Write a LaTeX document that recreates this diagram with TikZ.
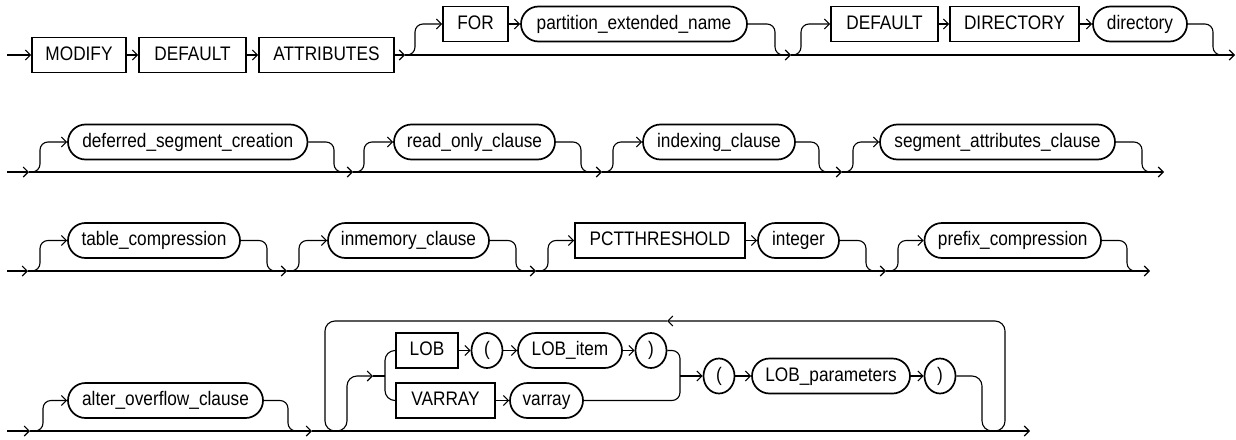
\documentclass[tikz,border=0pt]{standalone}
\usepackage{fontspec}
\setmainfont{Liberation Sans}[FakeStretch=0.88]
\usetikzlibrary{arrows.meta,shapes.misc,shapes.geometric}
\begin{document}
\begin{tikzpicture}[x=1pt,y=-1pt,
  conn/.style={line width=1.1pt},
  arr/.style={conn,-{Straight Barb[length=5pt,width=10pt]}},
  base/.style={draw,line width=1.7pt,minimum height=35pt,inner sep=0pt,
     text height=14pt,text depth=4pt,font=\fontsize{19.6}{22}\selectfont},
  kw/.style={base,rectangle},
  nt/.style={base,rounded rectangle},
  par/.style={base,ellipse,minimum width=31pt},
  rc/.style={rounded corners=8pt}]
\useasboundingbox (0,0) rectangle (1236,439);

% ---------------- Row 1 ----------------
\node[kw,minimum width=94] (modify) at (79,55) {MODIFY};
\node[kw,minimum width=107] (default1) at (192.5,55) {DEFAULT};
\node[kw,minimum width=135] (attributes) at (326.5,55) {ATTRIBUTES};
\node[kw,minimum width=65] (for) at (475.5,24) {FOR};
\node[nt,minimum width=226] (pen) at (634,24) {partition\_extended\_name};
\node[kw,minimum width=107] (default2) at (884.5,24) {DEFAULT};
\node[kw,minimum width=129] (dirkw) at (1014.5,24) {DIRECTORY};
\node[nt,minimum width=94] (dir) at (1140,24) {directory};
\coordinate (s1) at (7,55);
\coordinate (j1a) at (405,55);
\coordinate (j1b) at (791,55);
\coordinate (e1) at (1235,55);
\draw[arr] (s1) -- (modify.west);
\draw[arr] (modify.east) -- (default1.west);
\draw[arr] (default1.east) -- (attributes.west);
\draw[arr] (attributes.east) -- (j1a);
\draw[arr] (j1a) -- (j1b);
\draw[arr] (j1b) -- (e1);
\draw[arr,rc] (j1a) -- (415,55) -- (415,24) -- (for.west);
\draw[arr] (for.east) -- (pen.west);
\draw[conn,rc] (pen.east) -- (775,24) -- (775,55) -- (785,55);
\draw[arr,rc] (j1b) -- (801,55) -- (801,24) -- (default2.west);
\draw[arr] (default2.east) -- (dirkw.west);
\draw[arr] (dirkw.east) -- (dir.west);
\draw[conn,rc] (dir.east) -- (1213,24) -- (1213,55) -- (1223,55);

% ---------------- Row 2 ----------------
\node[nt,minimum width=239.5] (dsc) at (187.75,142) {deferred\_segment\_creation};
\node[nt,minimum width=161] (roc) at (474.5,142) {read\_only\_clause};
\node[nt,minimum width=152] (idx) at (719,142) {indexing\_clause};
\node[nt,minimum width=235] (sac) at (997.5,142) {segment\_attributes\_clause};
\coordinate (s2) at (7,172);
\coordinate (j2a) at (29,172);
\coordinate (j2b) at (353,172);
\coordinate (j2c) at (602,172);
\coordinate (j2d) at (842,172);
\coordinate (e2) at (1164,172);
\draw[arr] (s2) -- (j2a);
\draw[arr] (j2a) -- (j2b);
\draw[arr] (j2b) -- (j2c);
\draw[arr] (j2c) -- (j2d);
\draw[arr] (j2d) -- (e2);
\draw[arr,rc] (j2a) -- (40,172) -- (40,142) -- (dsc.west);
\draw[conn,rc] (dsc.east) -- (334,142) -- (334,172) -- (344,172);
\draw[arr,rc] (j2b) -- (364,172) -- (364,142) -- (roc.west);
\draw[conn,rc] (roc.east) -- (581,142) -- (581,172) -- (591,172);
\draw[arr,rc] (j2c) -- (613,172) -- (613,142) -- (idx.west);
\draw[conn,rc] (idx.east) -- (819,142) -- (819,172) -- (829,172);
\draw[arr,rc] (j2d) -- (853,172) -- (853,142) -- (sac.west);
\draw[conn,rc] (sac.east) -- (1142,142) -- (1142,172) -- (1152,172);

% ---------------- Row 3 ----------------
\node[nt,minimum width=172] (tc) at (154,240.5) {table\_compression};
\node[nt,minimum width=161] (inm) at (408.5,240.5) {inmemory\_clause};
\node[kw,minimum width=170] (pct) at (660,240.5) {PCTTHRESHOLD};
\node[nt,minimum width=81] (int) at (798.5,240.5) {integer};
\node[nt,minimum width=176.5] (pfx) at (1012.75,240.5) {prefix\_compression};
\coordinate (s3) at (7,271);
\coordinate (j3a) at (28,271);
\coordinate (j3b) at (287,271);
\coordinate (j3c) at (536,271);
\coordinate (j3d) at (886,271);
\coordinate (e3) at (1150,271);
\draw[arr] (s3) -- (j3a);
\draw[arr] (j3a) -- (j3b);
\draw[arr] (j3b) -- (j3c);
\draw[arr] (j3c) -- (j3d);
\draw[arr] (j3d) -- (e3);
\draw[arr,rc] (j3a) -- (40,271) -- (40,240.5) -- (tc.west);
\draw[conn,rc] (tc.east) -- (267,240.5) -- (267,271) -- (277,271);
\draw[arr,rc] (j3b) -- (299,271) -- (299,240.5) -- (inm.west);
\draw[conn,rc] (inm.east) -- (516,240.5) -- (516,271) -- (526,271);
\draw[arr,rc] (j3c) -- (548,271) -- (548,240.5) -- (pct.west);
\draw[arr] (pct.east) -- (int.west);
\draw[conn,rc] (int.east) -- (866,240.5) -- (866,271) -- (876,271);
\draw[arr,rc] (j3d) -- (898,271) -- (898,240.5) -- (pfx.west);
\draw[conn,rc] (pfx.east) -- (1127,240.5) -- (1127,271) -- (1137,271);

% ---------------- Row 4 ----------------
\node[nt,minimum width=195] (aoc) at (165.5,400.5) {alter\_overflow\_clause};
\node[kw,minimum width=62] (lob) at (427,350.5) {LOB};
\node[kw,minimum width=99] (varraykw) at (445.5,400.5) {VARRAY};
\node[par] (lp1) at (487,350.5) {(};
\node[nt,minimum width=104] (lobitem) at (570,350.5) {LOB\_item};
\node[par] (rp1) at (651,350.5) {)};
\node[nt,minimum width=73] (varray) at (546.5,400.5) {varray};
\node[par] (lp2) at (719,376) {(};
\node[nt,minimum width=158] (lobp) at (831,376) {LOB\_parameters};
\node[par] (rp2) at (940,376) {)};
\coordinate (s4) at (7,431);
\coordinate (j4a) at (30,431);
\coordinate (j4b) at (312,431);
\coordinate (e4) at (1030,431);
\coordinate (fk) at (385,376);
\coordinate (fin) at (373,376);
\coordinate (fout) at (680,376);
\coordinate (top) at (667,321);
\draw[arr] (s4) -- (j4a);
\draw[arr] (j4a) -- (j4b);
\draw[arr] (j4b) -- (e4);
\draw[arr,rc] (j4a) -- (43,431) -- (43,400.5) -- (aoc.west);
\draw[conn,rc] (aoc.east) -- (288,400.5) -- (288,431) -- (298,431);
% loop
\draw[arr,rounded corners=10pt] (rp2.east) -- (982,376) -- (982,431) -- (1005,431) -- (1005,321) -- (top);
\draw[arr,rounded corners=10pt] (top) -- (325,321) -- (325,431) -- (347,431) -- (347,376) -- (fin);
\draw[conn] (fin) -- (fk);
% choice
\draw[conn,rounded corners=10pt] (lob.west) -- (385,350.5) -- (385,400.5) -- (varraykw.west);
\draw[arr] (lob.east) -- (lp1.west);
\draw[arr] (lp1.east) -- (lobitem.west);
\draw[arr] (lobitem.east) -- (rp1.west);
\draw[arr] (varraykw.east) -- (varray.west);
\draw[conn,rounded corners=8pt] (rp1.east) -- (680,350.5) -- (680,400.5) -- (varray.east);
\draw[arr] (fout) -- (lp2.west);
\draw[arr] (lp2.east) -- (lobp.west);
\draw[arr] (lobp.east) -- (rp2.west);
\end{tikzpicture}
\end{document}
